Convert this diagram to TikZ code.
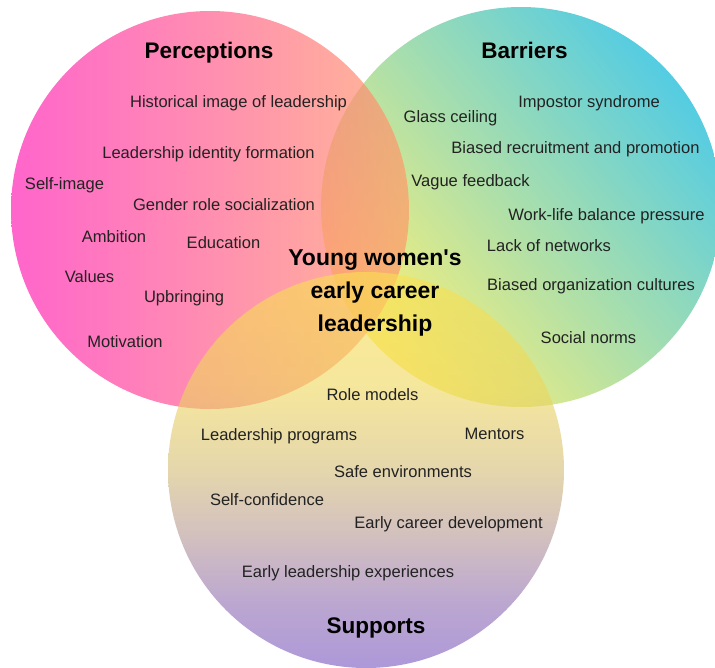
\documentclass[tikz,border=0pt]{standalone}
\usepackage{fontspec}
\setmainfont{Liberation Sans}
% fill colours, chosen to be laid down with partial opacity
\definecolor{pmag}{RGB}{255,36,182}
\definecolor{ppeach}{RGB}{255,155,105}
\definecolor{bcyan}{RGB}{12,183,215}
\definecolor{byellow}{RGB}{255,235,60}
\definecolor{sy1}{RGB}{250,225,80}
\definecolor{sy2}{RGB}{238,214,92}
\definecolor{sy3}{RGB}{212,188,118}
\definecolor{sbeige}{RGB}{182,152,148}
\definecolor{smauve}{RGB}{142,108,178}
\definecolor{sp1}{RGB}{120,84,192}
\definecolor{ink}{RGB}{34,34,34}
% yellow at the top of the supports set, purple at its foot
\pgfdeclareverticalshading{supportsfill}{100bp}{%
  color(0bp)=(sp1); color(25bp)=(sp1); color(33bp)=(smauve);
  color(42bp)=(sbeige); color(50bp)=(sy3); color(60bp)=(sy2); color(75bp)=(sy1);
  color(100bp)=(sy1)}
\begin{document}
\begin{tikzpicture}[x=0.75pt,y=-0.75pt,
  item/.style={font=\fontsize{12.4}{14}\selectfont, text=ink, inner sep=0pt,
    text height=8.9pt, text depth=2.5pt},
  heading/.style={font=\bfseries\fontsize{16.9}{20}\selectfont, text=black, inner sep=0pt,
    text height=12.2pt, text depth=3.4pt},
  core/.style={font=\bfseries\fontsize{17.2}{24.4}\selectfont, text=black, align=center, inner sep=0pt}]
\useasboundingbox (0,0) rectangle (715,668);
\fill[white] (0,0) rectangle (715,668);

% the three sets, barriers first, supports on top
\shade[top color=bcyan, bottom color=byellow, shading angle=-50, fill opacity=0.7]
  (521,207) circle[radius=150pt];
\shade[left color=pmag, right color=ppeach, fill opacity=0.7]
  (210,210) circle[radius=149.25pt];
\shade[shading=supportsfill, fill opacity=0.6]
  (366,470) circle[radius=148.5pt];

% perceptions
\node[heading] (hp) at (209,53) {Perceptions};
\node[item] (p1) at (238.5,103) {Historical image of leadership};
\node[item] (p2) at (208.5,154) {Leadership identity formation};
\node[item] (p3) at (64.5,185) {Self-image};
\node[item] (p4) at (224,206) {Gender role socialization};
\node[item] (p5) at (114,238) {Ambition};
\node[item] (p6) at (223.5,244) {Education};
\node[item] (p7) at (89.5,278) {Values};
\node[item] (p8) at (184,298) {Upbringing};
\node[item] (p9) at (125,343) {Motivation};

% barriers
\node[heading] (hb) at (524.5,53) {Barriers};
\node[item] (b1) at (450.5,118) {Glass ceiling};
\node[item] (b2) at (589,103) {Impostor syndrome};
\node[item] (b3) at (575.5,149) {Biased recruitment and promotion};
\node[item] (b4) at (470.5,182) {Vague feedback};
\node[item] (b5) at (606.5,216) {Work-life balance pressure};
\node[item] (b6) at (549,247) {Lack of networks};
\node[item] (b7) at (591,286) {Biased organization cultures};
\node[item] (b8) at (588.5,339) {Social norms};

% centre
\node[core] (c) at (375,293) {Young women\textquotesingle s\\early career\\leadership};

% supports
\node[item] (s1) at (372.5,396) {Role models};
\node[item] (s2) at (279,436) {Leadership programs};
\node[item] (s3) at (494.5,435) {Mentors};
\node[item] (s4) at (403,473) {Safe environments};
\node[item] (s5) at (267,501) {Self-confidence};
\node[item] (s6) at (448.5,524) {Early career development};
\node[item] (s7) at (348,573) {Early leadership experiences};
\node[heading] (hs) at (376,628) {Supports};
\end{tikzpicture}
\end{document}
